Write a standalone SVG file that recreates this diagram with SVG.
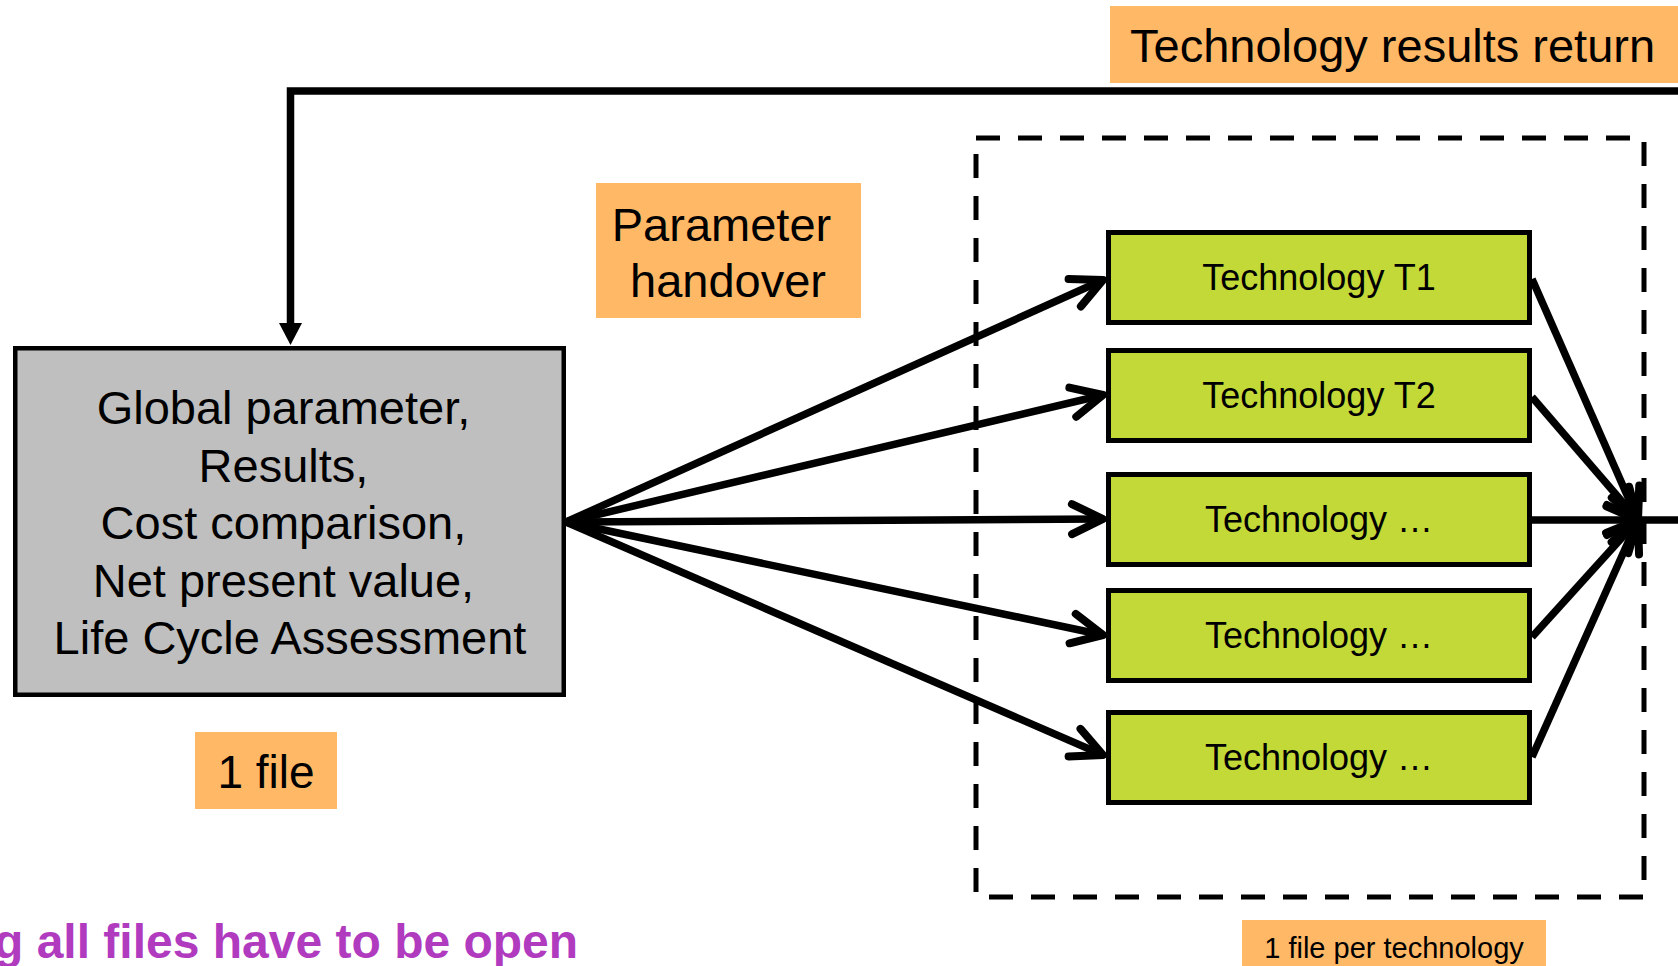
<svg xmlns="http://www.w3.org/2000/svg" width="1678" height="966" viewBox="0 0 1678 966">
  <style>
    .txt { font-family: "Liberation Sans", Arial, sans-serif; fill: #000; }
    .tag { fill: #FFB866; }
    .tech { fill: #C3D937; stroke: #000; stroke-width: 5; }
    .wire { fill: none; stroke: #000; stroke-width: 7.5; stroke-linecap: butt; }
    .frame { fill: none; stroke: #000; stroke-width: 5; stroke-dasharray: 24 18; }
  </style>
  <defs>
    <!-- open chevron head for the data-flow arrows -->
    <marker id="chev" markerUnits="userSpaceOnUse" orient="auto" overflow="visible" refX="0" refY="0" markerWidth="40" markerHeight="40">
      <path d="M-31,-15 L0,0 L-31,15" fill="none" stroke="#000" stroke-width="8" stroke-linecap="round" stroke-linejoin="round"/>
    </marker>
    <!-- solid head for the return line -->
    <marker id="solid" markerUnits="userSpaceOnUse" orient="auto" overflow="visible" refX="0" refY="0" markerWidth="30" markerHeight="30">
      <path d="M0,-11.5 L22,0 L0,11.5 Z" fill="#000"/>
    </marker>
  </defs>

  <rect width="1678" height="966" fill="#fff"/>

  <!-- container of the per-technology files -->
  <g id="tech-frame">
    <rect class="frame" x="976" y="138" width="668" height="759"/>
  </g>

  <g id="connectors">
    <!-- results flowing back to the main file -->
    <path d="M1678,91 H290.5 V323" fill="none" stroke="#000" stroke-width="7.5" stroke-linejoin="miter" marker-end="url(#solid)"/>
    <!-- parameter handover fan-out -->
    <line class="wire" x1="566" y1="522" x2="1103" y2="280" marker-end="url(#chev)"/>
    <line class="wire" x1="566" y1="522" x2="1103" y2="395" marker-end="url(#chev)"/>
    <line class="wire" x1="566" y1="522" x2="1103" y2="519" marker-end="url(#chev)"/>
    <line class="wire" x1="566" y1="522" x2="1103" y2="635" marker-end="url(#chev)"/>
    <line class="wire" x1="566" y1="522" x2="1103" y2="755" marker-end="url(#chev)"/>
    <!-- technology results fan-in -->
    <line class="wire" x1="1532" y1="279" x2="1638" y2="520" marker-end="url(#chev)"/>
    <line class="wire" x1="1532" y1="397" x2="1638" y2="520" marker-end="url(#chev)"/>
    <line class="wire" x1="1532" y1="520" x2="1638" y2="520" marker-end="url(#chev)"/>
    <line class="wire" x1="1532" y1="637" x2="1638" y2="520" marker-end="url(#chev)"/>
    <line class="wire" x1="1532" y1="757" x2="1638" y2="520" marker-end="url(#chev)"/>
    <line class="wire" x1="1636" y1="520" x2="1678" y2="520"/>
  </g>

  <g id="node-main">
    <rect x="15.25" y="348.25" width="548.5" height="346.5" fill="#BFBFBF" stroke="#000" stroke-width="4.5"/>
    <text class="txt" font-size="47" text-anchor="middle">
      <tspan x="290" y="424">Global parameter,</tspan>
      <tspan x="290" y="481.5">Results,</tspan>
      <tspan x="290" y="539">Cost comparison,</tspan>
      <tspan x="290" y="596.5">Net present value,</tspan>
      <tspan x="290" y="654">Life Cycle Assessment</tspan>
    </text>
  </g>

  <g id="node-t1">
    <rect class="tech" x="1108.5" y="232.5" width="421" height="90"/>
    <text class="txt" x="1319" y="290" font-size="36" text-anchor="middle">Technology T1</text>
  </g>
  <g id="node-t2">
    <rect class="tech" x="1108.5" y="350.5" width="421" height="90"/>
    <text class="txt" x="1319" y="408" font-size="36" text-anchor="middle">Technology T2</text>
  </g>
  <g id="node-t3">
    <rect class="tech" x="1108.5" y="474.5" width="421" height="90"/>
    <text class="txt" x="1319" y="532" font-size="36" text-anchor="middle">Technology …</text>
  </g>
  <g id="node-t4">
    <rect class="tech" x="1108.5" y="590.5" width="421" height="90"/>
    <text class="txt" x="1319" y="648" font-size="36" text-anchor="middle">Technology …</text>
  </g>
  <g id="node-t5">
    <rect class="tech" x="1108.5" y="712.5" width="421" height="90"/>
    <text class="txt" x="1319" y="770" font-size="36" text-anchor="middle">Technology …</text>
  </g>

  <g id="label-return">
    <rect class="tag" x="1110" y="6" width="568" height="77"/>
    <text class="txt" x="1130" y="62" font-size="47">Technology results return</text>
  </g>

  <g id="label-handover">
    <rect class="tag" x="596" y="183" width="265" height="135"/>
    <text class="txt" font-size="47" text-anchor="middle">
      <tspan x="728" y="241">Parameter</tspan>
      <tspan x="728" y="297">handover</tspan>
    </text>
  </g>

  <g id="label-one-file">
    <rect class="tag" x="195" y="732" width="142" height="77"/>
    <text class="txt" x="266" y="788" font-size="46" text-anchor="middle">1 file</text>
  </g>

  <g id="label-per-technology">
    <rect class="tag" x="1242" y="920" width="304" height="46"/>
    <text class="txt" x="1394" y="958" font-size="29" text-anchor="middle">1 file per technology</text>
  </g>

  <text id="note" class="txt" x="-6" y="958" font-size="48" font-weight="bold" style="fill:#B13BBF">g all files have to be open</text>
</svg>
